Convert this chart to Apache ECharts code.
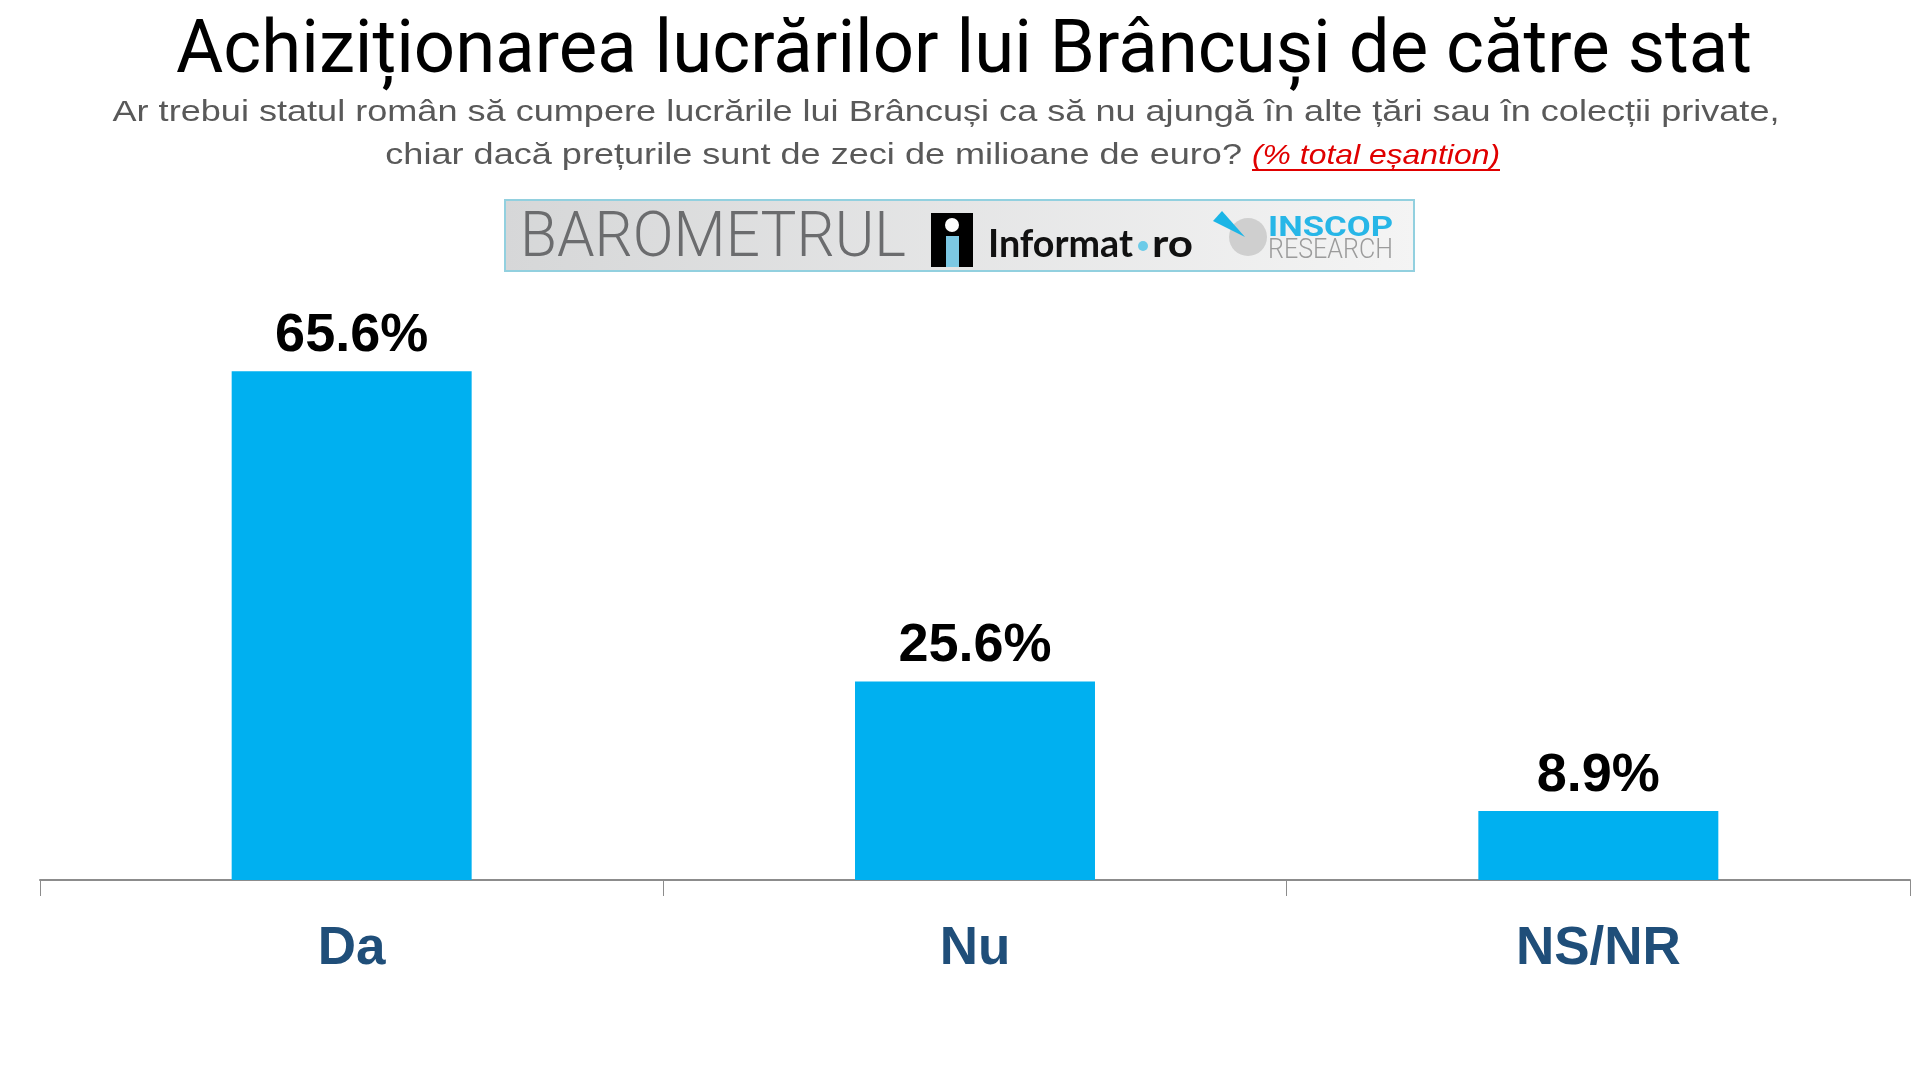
<!DOCTYPE html>
<html lang="ro">
<head>
  <meta charset="UTF-8">
  <title>Achiziționarea lucrărilor lui Brâncuși de către stat</title>
  <style>
    html, body { margin: 0; padding: 0; background: #fff; }
    #chart { width: 1920px; height: 1080px; }
  </style>
</head>
<body>
  <div id="chart"></div>
  <script src="https://cdn.jsdelivr.net/npm/echarts@6/dist/echarts.min.js"></script>
  <script>
    var categories = ['Da', 'Nu', 'NS/NR']
    var values = [65.6, 25.6, 8.9]

    var titleText = 'Achiziționarea lucrărilor lui Brâncuși de către stat'
    var subLine1 = 'Ar trebui statul român să cumpere lucrările lui Brâncuși ca să nu ajungă în alte țări sau în colecții private,'
    var subLine2 = 'chiar dacă prețurile sunt de zeci de milioane de euro? '
    var subNote = '(% total eșantion)'

    // measure text so the narrow title / logo words fill the same width
    var ctx = document.createElement('canvas').getContext('2d')
    function textWidth(txt, font) {
      ctx.font = font
      return ctx.measureText(txt).width
    }

    var titleFont = '75px Roboto'
    var titleScale = 1576 / textWidth(titleText, titleFont)
    var subFont = '30px "Liberation Sans"'
    var subScale = 1667 / textWidth(subLine1, subFont)
    var line2W = textWidth(subLine2, subFont) * subScale
    var noteFont = 'italic 28px "Liberation Sans"'
    var noteLeft = 1252
    var noteW = 248
    var noteScale = noteW / textWidth(subNote, noteFont)

    var baroFont = '300 63px Roboto'
    var baroScale = 386 / textWidth('BAROMETRUL', baroFont)
    var infFont = 'bold 39px Lato'
    var infScale = 145 / textWidth('Informat', infFont)
    var roScale = 41 / textWidth('ro', infFont)
    var insFont = 'bold 28px Roboto'
    var insScale = 125 / textWidth('INSCOP', insFont)
    var resFont = '300 27px Roboto'
    var resScale = 125 / textWidth('RESEARCH', resFont)

    function txt(x, y, s, font, fill, sx, align) {
      return {
        type: 'text', x: x, y: y, scaleX: sx || 1,
        style: {
          text: s, font: font, fill: fill,
          textAlign: align || 'left', textVerticalAlign: 'middle'
        }
      }
    }

    var graphics = [
      txt(964, 53, titleText, titleFont, '#000000', titleScale, 'center'),
      txt(946, 113, subLine1, subFont, '#595959', subScale, 'center'),
      txt(noteLeft - line2W, 156, subLine2, subFont, '#595959', subScale),
      txt(noteLeft, 156, subNote, noteFont, '#E00000', noteScale),
      {
        type: 'line',
        shape: { x1: noteLeft, y1: 170, x2: noteLeft + noteW, y2: 170 },
        style: { stroke: '#E00000', lineWidth: 2 }
      },
      // logo banner
      {
        type: 'rect',
        shape: { x: 505, y: 200, width: 909, height: 71 },
        style: {
          fill: new echarts.graphic.LinearGradient(0, 0, 1, 0, [
            { offset: 0, color: '#d6d7d8' },
            { offset: 1, color: '#f4f4f4' }
          ]),
          stroke: '#92d0df', lineWidth: 2
        }
      },
      txt(520, 240, 'BAROMETRUL', baroFont, '#6b6c6e', baroScale),
      { type: 'rect', shape: { x: 931, y: 213, width: 42, height: 54 }, style: { fill: '#000' } },
      { type: 'circle', shape: { cx: 952, cy: 225, r: 7 }, style: { fill: '#fff' } },
      { type: 'rect', shape: { x: 946, y: 236, width: 13, height: 31 }, style: { fill: '#7cc8e3' } },
      txt(988, 244, 'Informat', infFont, '#111111', infScale),
      { type: 'circle', shape: { cx: 1143, cy: 246, r: 5 }, style: { fill: '#6ccbe8' } },
      txt(1152, 244, 'ro', infFont, '#111111', roScale),
      { type: 'circle', shape: { cx: 1248, cy: 237, r: 19 }, style: { fill: '#cfcfcf' } },
      {
        type: 'polygon',
        shape: { points: [[1213, 221], [1222, 211], [1245, 237]] },
        style: { fill: '#1bb5e6' }
      },
      txt(1268, 229, 'INSCOP', insFont, '#27b6e7', insScale),
      txt(1268, 251, 'RESEARCH', resFont, '#9b9b9b', resScale)
    ]

    var option = {
      animation: false,
      backgroundColor: '#ffffff',
      graphic: graphics,
      grid: {
        left: 40,
        right: 10,
        top: 337,
        bottom: 200
      },
      xAxis: {
        type: 'category',
        data: categories,
        axisLine: { lineStyle: { color: '#8c8c8c', width: 2 } },
        axisTick: { show: true, alignWithLabel: false, length: 16, lineStyle: { color: '#8c8c8c', width: 1 } },
        axisLabel: {
          margin: 43,
          fontSize: 53,
          fontWeight: 'bold',
          fontFamily: '"Liberation Sans", Arial',
          color: '#1F4E79'
        }
      },
      yAxis: {
        type: 'value',
        min: 0,
        max: 70,
        show: false,
        splitLine: { show: false }
      },
      series: [
        {
          type: 'bar',
          data: values,
          barWidth: '38.5%',
          itemStyle: { color: '#00B0F0' },
          label: {
            show: true,
            position: 'top',
            distance: 8,
            fontSize: 54,
            fontWeight: 'bold',
            fontFamily: '"Liberation Sans", Arial',
            color: '#000000',
            formatter: function (p) { return p.value.toFixed(1) + '%' }
          }
        }
      ]
    }

    var chart = echarts.init(document.getElementById('chart'))
    chart.setOption(option)
  </script>
</body>
</html>
